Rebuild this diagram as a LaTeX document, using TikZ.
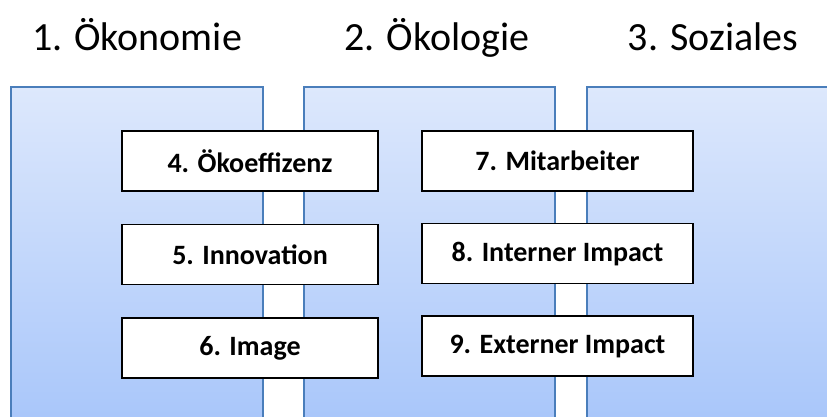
\documentclass[tikz,border=0pt]{standalone}
\usepackage{fontspec}
\setmainfont{Carlito}
\usetikzlibrary{positioning, shadows}

\definecolor{colborder}{HTML}{4A7EBB}
\definecolor{coltop}{HTML}{DDE8FC}
\definecolor{colbottom}{HTML}{A8C6FA}

\begin{document}
\begin{tikzpicture}[x=1pt, y=-1pt,
    column/.style={rectangle, draw=colborder, line width=1.8pt, top color=coltop,
        bottom color=colbottom, minimum width=252pt, minimum height=340pt,
        anchor=north west, inner sep=0pt,
        drop shadow={opacity=0.2, shadow xshift=1pt, shadow yshift=-1pt}},
    facet/.style={rectangle, draw=black, line width=1.6pt, fill=white,
        minimum height=60pt, text centered, text=black,
        font=\bfseries\fontsize{28}{32}\selectfont},
    heading/.style={rectangle, draw=none, fill=none, text=black, anchor=base,
        font=\fontsize{40}{44}\selectfont},
    node distance=32pt
]
\useasboundingbox (0,0) rectangle (827,416);
\clip (0,0) rectangle (827,416);

% columns
\node (Col01) [column] at (10,86) {};
\node (Col02) [column, minimum width=251pt] at (303,86) {};
\node (Col03) [column, minimum width=260pt] at (586,86) {};

% headings
\node (Head01) [heading] at (137,50) {1. Ökonomie};
\node (Head02) [heading] at (437,50) {2. Ökologie};
\node (Head03) [heading] at (713,50) {3. Soziales};

% left row of boxes
\node (Box04) [facet, minimum width=256pt] at (250,161) {4. Ökoeffizenz};
\node (Box05) [facet, minimum width=256pt, below=of Box04] {5. Innovation};
\node (Box06) [facet, minimum width=256pt, below=of Box05] {6. Image};

% right row of boxes
\node (Box07) [facet, minimum width=271pt] at (557.5,161) {7. Mitarbeiter};
\node (Box08) [facet, minimum width=271pt, below=31pt of Box07] {8. Interner Impact};
\node (Box09) [facet, minimum width=271pt, below=31pt of Box08] {9. Externer Impact};
\end{tikzpicture}
\end{document}
